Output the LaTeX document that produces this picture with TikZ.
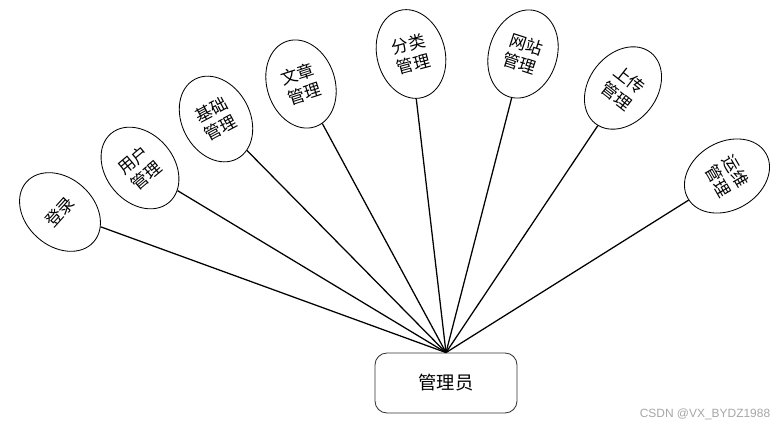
\documentclass[tikz,border=0pt]{standalone}
\usepackage{fontspec}
\usepackage{xcolor}
\usepackage{tikz}
\newfontfamily\cjk{Noto Sans CJK SC}
\setsansfont{Liberation Sans}
\usetikzlibrary{shapes.geometric, positioning}

\begin{document}
\begin{tikzpicture}[
    x=0.025cm, y=-0.025cm,
    func node/.style={ellipse,draw,line width=0.6pt,minimum width=1.7cm,minimum height=2.25cm,inner sep=0pt,align=center,font=\cjk\fontsize{12}{14.5}\selectfont},
    admin node/.style={rectangle,rounded corners=0.3cm,draw=black!80,line width=0.6pt,minimum width=3.55cm,minimum height=1.5cm,font=\cjk\fontsize{13}{15}\selectfont},
    link/.style={-,line width=0.9pt}
]
\useasboundingbox (0,0) rectangle (784,428);

\node[admin node] (admin) at (446,383) {管理员};

\node[func node, rotate=48] (login) at (60,212) {登录};
\node[func node, rotate=40] (user) at (140,168) {用户\\管理};
\node[func node, rotate=28] (base) at (216,119) {基础\\管理};
\node[func node, rotate=18] (article) at (301,84) {文章\\管理};
\node[func node, rotate=15] (category) at (411,54) {分类\\管理};
\node[func node, rotate=-18] (site) at (523,54) {网站\\管理};
\node[func node, rotate=-38] (upload) at (623,88) {上传\\管理};
\node[func node, rotate=-60] (ops) at (727,176) {运维\\管理};

\foreach \f in {login,user,base,article,category,site,upload,ops}
    \draw[link] (admin.north) -- (\f);

\node[text=black!35, font=\sffamily\fontsize{8.5}{10}\selectfont] (mark) at (705,414) {CSDN @VX\_BYDZ1988};

\end{tikzpicture}
\end{document}
